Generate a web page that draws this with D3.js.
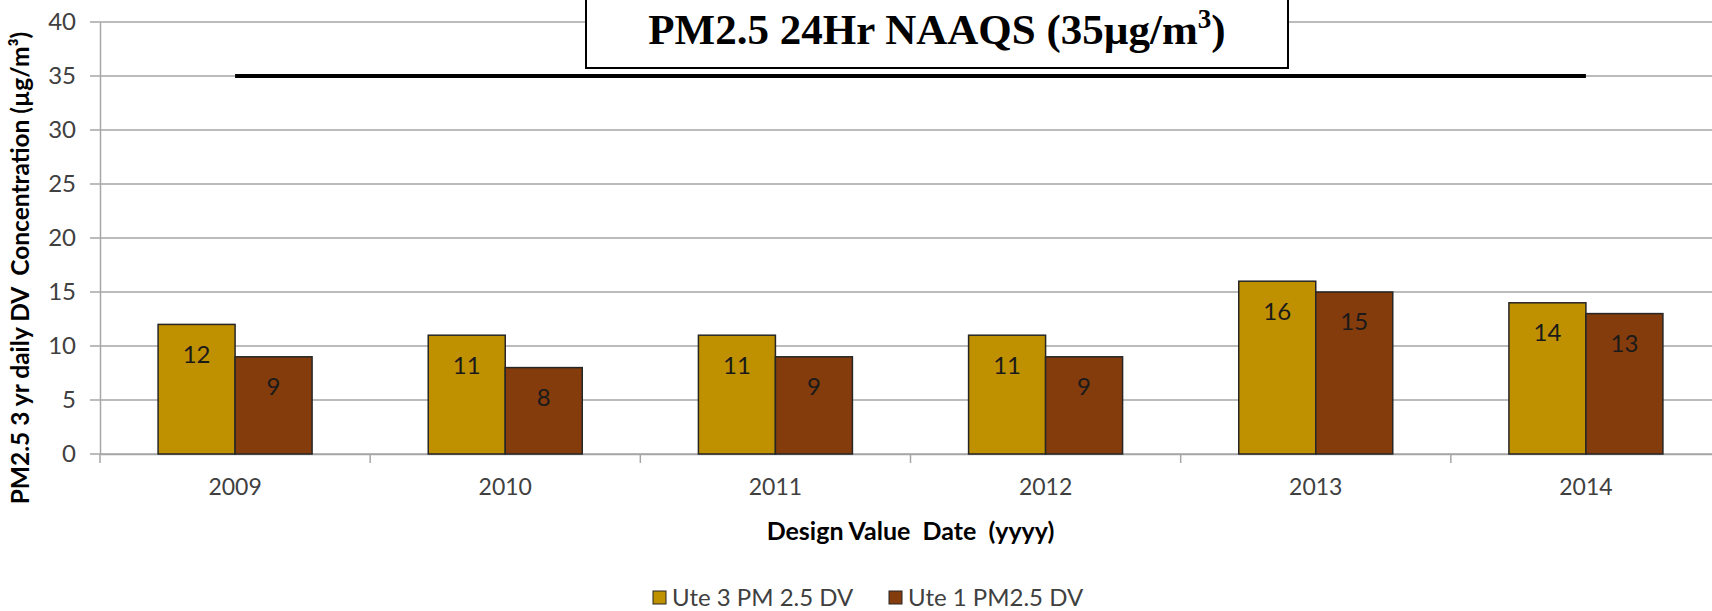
<!DOCTYPE html>
<html>
<head>
<meta charset="utf-8">
<script src="https://cdnjs.cloudflare.com/ajax/libs/d3/7.8.5/d3.min.js"></script>
<style>
	body { margin: 0; background: #fff; }
	svg { display: block; font-family: Lato, "Open Sans", sans-serif; }
</style>
</head>
<body>
<div id="chart"></div>
<script>
//Data
var years = ["2009", "2010", "2011", "2012", "2013", "2014"];
var seriesNames = ["Ute 3 PM 2.5 DV", "Ute 1 PM2.5 DV"];
var ute3 = [12, 11, 11, 11, 16, 14];
var ute1 = [9, 8, 9, 9, 15, 13];
var yTicks = [0, 5, 10, 15, 20, 25, 30, 35, 40];
var naaqs = 35;
var colors = ["#bf9000", "#843c0c"];

var width = 1712, height = 611;
var plot = { left: 100, right: 1721, top: 22, bottom: 454 };

var svg = d3.select("#chart")
	.append("svg")
	.attr("width", width)
	.attr("height", height);

//Scales
var x = d3.scaleBand()
	.domain(years)
	.range([plot.left, plot.right])
	.padding(0);

var barW = 77;
var xs = d3.scaleBand()
	.domain(seriesNames)
	.range([x.bandwidth() / 2 - barW, x.bandwidth() / 2 + barW]);

var y = d3.scaleLinear()
	.domain([0, 40])
	.range([plot.bottom, plot.top]);

//Gridlines
svg.append("g")
	.selectAll("line")
	.data(yTicks)
	.enter()
	.append("line")
	.attr("x1", plot.left - 10)
	.attr("x2", plot.right)
	.attr("y1", function(d) { return y(d); })
	.attr("y2", function(d) { return y(d); })
	.attr("stroke", "#a6a6a6")
	.attr("stroke-width", 1.5);

//Y axis
var yAxis = svg.append("g")
	.attr("transform", "translate(" + plot.left + ",0)")
	.call(d3.axisLeft(y).tickValues(yTicks).tickSize(0).tickPadding(24));
yAxis.select(".domain").attr("stroke", "#a6a6a6").attr("stroke-width", 1.5);
yAxis.selectAll("text")
	.attr("font-size", 24)
	.attr("font-family", "Lato, sans-serif")
	.attr("fill", "#404040");

//X axis
var xAxis = svg.append("g")
	.attr("transform", "translate(0," + plot.bottom + ")")
	.call(d3.axisBottom(x).tickSize(0).tickPadding(25));
xAxis.select(".domain").attr("stroke", "#a6a6a6").attr("stroke-width", 1.5);
xAxis.selectAll("text")
	.attr("font-size", 23)
	.attr("font-family", "Lato, sans-serif")
	.attr("fill", "#404040");
//tick marks between categories
xAxis.selectAll(".sep")
	.data(years.concat(["end"]))
	.enter()
	.append("line")
	.attr("class", "sep")
	.attr("x1", function(d, i) { return plot.left + i * x.bandwidth(); })
	.attr("x2", function(d, i) { return plot.left + i * x.bandwidth(); })
	.attr("y1", 0)
	.attr("y2", 9)
	.attr("stroke", "#a6a6a6")
	.attr("stroke-width", 1.5);

//Bars
var rows = years.map(function(yr, i) {
	return { year: yr, values: [ute3[i], ute1[i]] };
});

var groups = svg.selectAll(".year")
	.data(rows)
	.enter()
	.append("g")
	.attr("class", "year")
	.attr("transform", function(d) { return "translate(" + x(d.year) + ",0)"; });

var bars = groups.selectAll(".bar")
	.data(function(d) {
		return d.values.map(function(v, j) { return { name: seriesNames[j], value: v, idx: j }; });
	})
	.enter()
	.append("g")
	.attr("class", "bar");

bars.append("rect")
	.attr("x", function(d) { return xs(d.name); })
	.attr("y", function(d) { return y(d.value); })
	.attr("width", xs.bandwidth())
	.attr("height", function(d) { return plot.bottom - y(d.value); })
	.attr("fill", function(d) { return colors[d.idx]; })
	.attr("stroke", "#262626")
	.attr("stroke-width", 1.5);

bars.append("text")
	.attr("x", function(d) { return xs(d.name) + xs.bandwidth() / 2; })
	.attr("y", function(d) { return y(d.value) + 30; })
	.attr("dy", "0.35em")
	.attr("text-anchor", "middle")
	.attr("font-size", 24)
	.attr("fill", "#1a1a1a")
	.text(function(d) { return d.value; });

//NAAQS line
svg.append("line")
	.attr("x1", x(years[0]) + x.bandwidth() / 2)
	.attr("x2", x(years[years.length - 1]) + x.bandwidth() / 2)
	.attr("y1", y(naaqs))
	.attr("y2", y(naaqs))
	.attr("stroke", "#000")
	.attr("stroke-width", 4);

//Title box
svg.append("rect")
	.attr("x", 586)
	.attr("y", -2)
	.attr("width", 702)
	.attr("height", 70)
	.attr("fill", "#fff")
	.attr("stroke", "#000")
	.attr("stroke-width", 2);

var title = svg.append("text")
	.attr("x", 937)
	.attr("y", 44)
	.attr("text-anchor", "middle")
	.attr("font-family", "'Liberation Serif', 'Times New Roman', serif")
	.attr("font-weight", "bold")
	.attr("font-size", 43)
	.attr("fill", "#000");
title.append("tspan").text("PM2.5 24Hr NAAQS (35µg/m");
title.append("tspan").attr("font-size", 27).attr("dy", -16).text("3");
title.append("tspan").attr("dy", 16).text(")");

//Axis titles
svg.append("text")
	.attr("transform", "translate(29,268) rotate(-90)")
	.attr("text-anchor", "middle")
	.attr("font-weight", "bold")
	.attr("font-size", 24.5)
	.attr("fill", "#000")
	.style("white-space", "pre")
	.text("PM2.5 3 yr daily DV  Concentration (µg/m³)");

svg.append("text")
	.attr("x", (plot.left + plot.right) / 2)
	.attr("y", 540)
	.attr("text-anchor", "middle")
	.attr("font-weight", "bold")
	.attr("font-size", 25)
	.attr("fill", "#000")
	.style("white-space", "pre")
	.text("Design Value  Date  (yyyy)");

//Legend
var legendData = [
	{ Text: seriesNames[0], x: 653 },
	{ Text: seriesNames[1], x: 889 }
];
var legend = svg.selectAll(".legend")
	.data(legendData)
	.enter()
	.append("g")
	.attr("class", "legend")
	.attr("transform", function(d) { return "translate(" + d.x + ",591)"; });
legend.append("rect")
	.attr("width", 13)
	.attr("height", 13)
	.attr("fill", function(d, i) { return colors[i]; })
	.attr("stroke", "#262626")
	.attr("stroke-width", 1);
legend.append("text")
	.attr("x", 19)
	.attr("y", 15)
	.attr("font-size", 24)
	.attr("fill", "#404040")
	.text(function(d) { return d.Text; });
</script>
</body>
</html>
